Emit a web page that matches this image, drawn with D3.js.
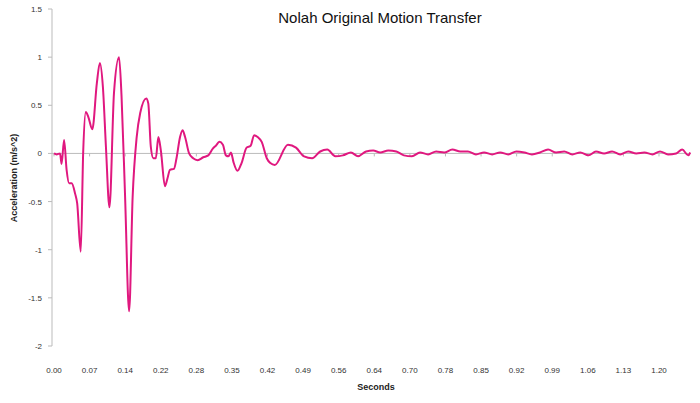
<!DOCTYPE html>
<html lang="en">
<head>
<meta charset="UTF-8" />
<script src="https://d3js.org/d3.v7.min.js"></script>
<style>
  body { margin: 0; background: #fff; }
  text { font-family: Arial, "Liberation Sans", sans-serif; }
</style>
</head>
<body>
<svg id="chart" width="700" height="403"></svg>
<script>
// readings
const seconds = [0.000,0.005,0.012,0.015,0.020,0.025,0.030,0.035,0.042,0.046,0.053,0.058,0.063,0.068,0.076,0.085,0.091,0.097,0.103,0.110,0.119,0.129,0.134,0.141,0.149,0.156,0.164,0.171,0.183,0.187,0.192,0.197,0.202,0.207,0.212,0.220,0.225,0.230,0.238,0.243,0.250,0.255,0.260,0.268,0.276,0.285,0.296,0.306,0.315,0.321,0.328,0.335,0.341,0.346,0.351,0.356,0.364,0.372,0.382,0.390,0.397,0.404,0.412,0.422,0.429,0.438,0.464,0.480,0.496,0.512,0.528,0.542,0.558,0.573,0.589,0.603,0.619,0.633,0.647,0.663,0.679,0.694,0.710,0.726,0.742,0.758,0.774,0.790,0.806,0.821,0.837,0.853,0.869,0.885,0.901,0.917,0.933,0.948,0.964,0.980,0.996,1.012,1.028,1.044,1.060,1.075,1.091,1.107,1.123,1.139,1.155,1.171,1.187,1.202,1.218,1.234,1.246,1.258,1.262];
const accel = [0,-0.01,0,-0.11,0.14,-0.17,-0.31,-0.31,-0.42,-0.52,-1.02,0.03,0.43,0.38,0.25,0.73,0.94,0.69,0.07,-0.56,0.63,1.0,0.59,-0.45,-1.64,-0.45,0.17,0.42,0.57,0.52,0.07,-0.05,-0.05,0.17,0.03,-0.34,-0.26,-0.17,-0.16,-0.05,0.17,0.24,0.17,0,-0.05,-0.07,-0.04,-0.02,0.05,0.08,0.12,0.09,-0.02,-0.03,0.01,-0.09,-0.18,-0.10,0.06,0.08,0.19,0.17,0.12,-0.05,-0.10,-0.12,0.09,0.06,-0.03,-0.05,0.02,0.04,-0.03,-0.02,0.01,-0.03,0.02,0.03,0.01,0.03,0.02,-0.02,-0.03,0.01,-0.01,0.02,0.01,0.04,0.02,0.02,-0.01,0.01,-0.01,0.01,-0.01,0.02,0.01,-0.01,0.01,0.04,0.01,0.02,-0.01,0.01,-0.02,0.02,0,0.02,-0.01,0.02,0,0.01,-0.01,0.02,-0.01,0,0.04,-0.02,0.01];
const xTickLabels = ["0.00","0.07","0.14","0.22","0.28","0.35","0.42","0.49","0.56","0.64","0.70","0.78","0.85","0.92","0.99","1.06","1.13","1.20"];
const yTicks = [1.5, 1, 0.5, 0, -0.5, -1, -1.5, -2];

const svg = d3.select("#chart");
const x = d3.scaleLinear().domain([0, 1.20]).range([54, 659]);
const y = d3.scaleLinear().domain([-2, 1.5]).range([346, 9]);

// y axis line + labels
svg.append("line").attr("x1", 52).attr("x2", 52).attr("y1", y(1.5)).attr("y2", y(-2))
  .attr("stroke", "#bbb");
yTicks.forEach(v => {
  svg.append("line").attr("x1", 48).attr("x2", 52).attr("y1", y(v)).attr("y2", y(v)).attr("stroke", "#bbb");
  svg.append("text").attr("x", 42).attr("y", y(v) + 3).attr("text-anchor", "end")
    .attr("font-size", 8).attr("fill", "#333").text(v);
});

// zero line with small ticks
svg.append("line").attr("x1", 52).attr("x2", 690).attr("y1", y(0)).attr("y2", y(0)).attr("stroke", "#bbb");
xTickLabels.forEach((lab, i) => {
  const px = x(i * 1.20 / (xTickLabels.length - 1));
  svg.append("line").attr("x1", px).attr("x2", px).attr("y1", y(0)).attr("y2", y(0) + 3).attr("stroke", "#bbb");
  svg.append("text").attr("x", px).attr("y", 373).attr("text-anchor", "middle")
    .attr("font-size", 8).attr("fill", "#333").text(lab);
});

// series
const line = d3.line().x((d, i) => x(seconds[i])).y(d => y(d)).curve(d3.curveMonotoneX);
svg.append("path").datum(accel).attr("d", line)
  .attr("fill", "none").attr("stroke", "#e0187f").attr("stroke-width", 2);

// titles
svg.append("text").attr("x", 380).attr("y", 23).attr("text-anchor", "middle")
  .attr("font-size", 15).attr("fill", "#111").text("Nolah Original Motion Transfer");
svg.append("text").attr("x", 376).attr("y", 390).attr("text-anchor", "middle")
  .attr("font-size", 9).attr("font-weight", "bold").attr("fill", "#222").text("Seconds");
svg.append("text").attr("transform", "translate(17,178) rotate(-90)").attr("text-anchor", "middle")
  .attr("font-size", 9).attr("font-weight", "bold").attr("fill", "#222").text("Acceleration (m/s^2)");
</script>
</body>
</html>
